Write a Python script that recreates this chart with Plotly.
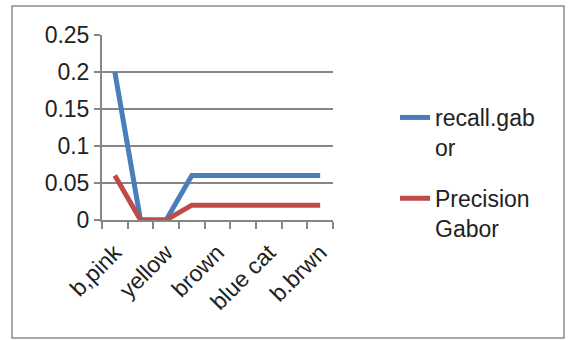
import plotly.graph_objects as go

# categories (only every other one is labelled in the reference)
x_index = [0, 1, 2, 3, 4, 5, 6, 7, 8]
label_positions = [0, 2, 4, 6, 8]
label_text = ["b,pink", "yellow", "brown", "blue cat", "b.brwn"]

recall_gabor = [0.2, 0.0, 0.0, 0.06, 0.06, 0.06, 0.06, 0.06, 0.06]
precision_gabor = [0.06, 0.0, 0.0, 0.02, 0.02, 0.02, 0.02, 0.02, 0.02]

BLUE = "#4A7EBB"
RED = "#BE4B48"
GRID = "#868686"
FONT = "Liberation Sans"
FS = 23

fig = go.Figure()
fig.add_trace(go.Scatter(x=x_index, y=recall_gabor, mode="lines",
                         name="recall.gab<br>or", legendgroup="g1",
                         line=dict(color=BLUE, width=5)))
fig.add_trace(go.Scatter(x=x_index, y=precision_gabor, mode="lines",
                         name="Precision<br>Gabor", legendgroup="g2",
                         line=dict(color=RED, width=5)))

L, R, T, B = 102, 235, 35, 120
W, H = 568, 340
pw, ph = W - L - R, H - T - B

def px_x(p):
    return (p - L) / pw

def px_y(p):
    return (H - B - p) / ph

fig.update_layout(
    width=W, height=H,
    margin=dict(l=L, r=R, t=T, b=B),
    paper_bgcolor="white", plot_bgcolor="white",
    font=dict(family=FONT, size=FS, color="#222222"),
    showlegend=True,
    legend=dict(x=px_x(395), y=px_y(96), xanchor="left", yanchor="top",
                font=dict(family=FONT, size=FS, color="#222222"),
                bgcolor="rgba(0,0,0,0)", tracegroupgap=18, valign="top",
                itemwidth=30),
    xaxis=dict(range=[-0.5, 8.5], tickmode="array", tickvals=label_positions,
               ticktext=label_text, tickangle=-45, ticks="", showgrid=False,
               showline=True, linecolor=GRID, linewidth=2, zeroline=False,
               ticklabelstandoff=8,
               tickfont=dict(family=FONT, size=FS, color="#222222"),
               minor=dict(tickmode="linear", tick0=-0.5, dtick=1, ticks="outside",
                          ticklen=7, tickcolor=GRID, tickwidth=2, showgrid=False)),
    yaxis=dict(range=[0, 0.25], dtick=0.05, tick0=0, showgrid=True,
               gridcolor=GRID, gridwidth=1.5, showline=True, linecolor=GRID,
               linewidth=2, ticks="outside", ticklen=6, tickcolor=GRID,
               tickwidth=1.5, zeroline=False,
               tickfont=dict(family=FONT, size=FS, color="#222222")),
)

fig.add_shape(type="rect", xref="paper", yref="paper",
              x0=px_x(12), x1=px_x(564), y0=px_y(338), y1=px_y(6),
              line=dict(color="#8C8C8C", width=1.5), layer="below")

fig.write_html("out.html", config={"displayModeBar": False},
               post_script="document.body.style.margin='0px';document.body.style.overflow='hidden';")
